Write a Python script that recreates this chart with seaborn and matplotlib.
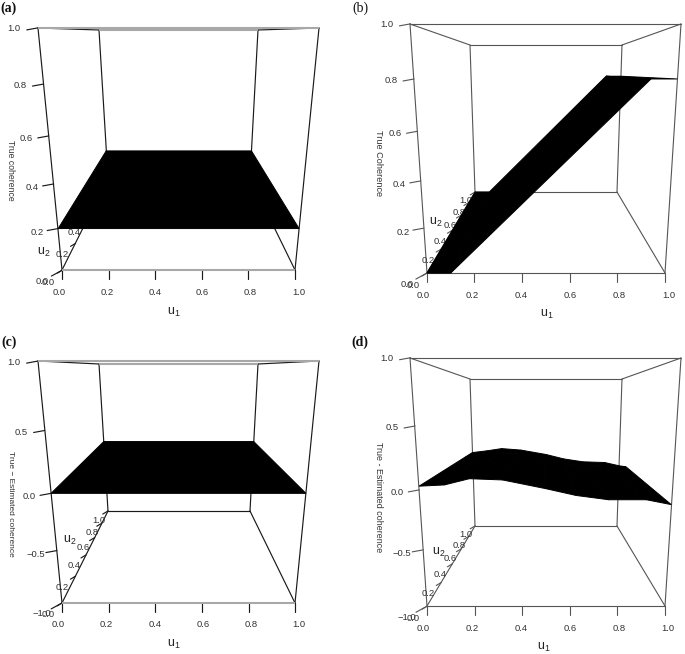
import numpy as np
import pandas as pd
import seaborn as sns
from matplotlib import pyplot as plt

sns.set_theme(style='white')
plt.rcParams['font.family'] = ['Liberation Sans', 'DejaVu Sans']
plt.rcParams['mathtext.default'] = 'regular'

PANEL_W, PANEL_H = 342.5, 327

# axis tick values
u_ticks = [0.0, 0.2, 0.4, 0.6, 0.8, 1.0]
z_ticks_ab = [0.0, 0.2, 0.4, 0.6, 0.8, 1.0]
z_ticks_cd = [-1.0, -0.5, 0.0, 0.5, 1.0]

# surface values, rows are u2, columns are u1
a_u1 = [0.0, 1.0]
a_u2 = [0.0, 1.0]
a_z = [[0.2, 0.2], [0.2, 0.2]]

b_u1 = [0.0, 0.1, 0.9, 1.0]
b_u2 = [0.0, 1.0]
b_z = [[0.0, 0.0, 0.8, 0.8], [0.0, 0.0, 0.8, 0.8]]

c_u1 = [0.0, 1.0]
c_u2 = [0.0, 1.0]
c_z = [[0.0, 0.0], [0.0, 0.0]]

d_u1 = [0.0, 0.1, 0.2, 0.33, 0.5, 0.62, 0.75, 0.9, 1.0]
d_u2 = [0.0, 0.8, 1.0]
d_z = [[0.03, 0.04, 0.09, 0.08, 0.01, -0.045, -0.08, -0.08, -0.12],
       [0.035, 0.056, 0.09, 0.07, 0.01, -0.05, -0.088, -0.095, -0.09],
       [0.036, 0.06, 0.09, 0.07, 0.01, -0.05, -0.09, -0.10, -0.145]]

CORNERS = [(0, 0, 0), (1, 0, 0), (0, 1, 0), (1, 1, 0),
           (0, 0, 1), (1, 0, 1), (0, 1, 1), (1, 1, 1)]
EDGES = [(0, 1), (2, 3), (4, 5), (6, 7), (0, 2), (1, 3),
         (4, 6), (5, 7), (0, 4), (1, 5), (2, 6), (3, 7)]
RIM_EDGES = [(0, 1), (4, 5), (6, 7)]


def fit_camera(screen):
    # 3x4 perspective matrix from the eight box corners
    rows, rhs = [], []
    for (x, y, z), (sx, sy) in zip(CORNERS, screen):
        rows.append([x, y, z, 1, 0, 0, 0, 0, -sx * x, -sx * y, -sx * z])
        rhs.append(sx)
        rows.append([0, 0, 0, 0, x, y, z, 1, -sy * x, -sy * y, -sy * z])
        rhs.append(sy)
    p = np.linalg.lstsq(np.array(rows, float), np.array(rhs, float), rcond=None)[0]
    return np.append(p, 1.0).reshape(3, 4)


def draw_panel(ax, cfg):
    cam = fit_camera(cfg['box'])
    zmin, zmax = cfg['zlim']

    def project(u1, u2, z):
        w = cam @ np.array([u1, u2, (z - zmin) / (zmax - zmin), 1.0])
        return w[0] / w[2], w[1] / w[2]

    # box edges, the pale ones are drawn apart in panels a and c
    screen = cfg['box']
    segs = []
    n = 0
    for i, j in EDGES:
        if cfg['pale_rim'] and (i, j) in RIM_EDGES:
            continue
        segs.append({'edge': n, 'x': screen[i][0], 'y': screen[i][1]})
        segs.append({'edge': n, 'x': screen[j][0], 'y': screen[j][1]})
        n += 1
    # tick marks
    for u in u_ticks:
        x, y = project(u, 0, zmin)
        segs.append({'edge': n, 'x': x, 'y': y})
        segs.append({'edge': n, 'x': x, 'y': y + 9})
        n += 1
    for z in cfg['zticks']:
        x, y = project(0, 0, z)
        dy = 6 if z == zmin else 2
        segs.append({'edge': n, 'x': x, 'y': y})
        segs.append({'edge': n, 'x': x - 11, 'y': y + dy})
        n += 1
    for u in u_ticks:
        x, y = project(0, u, zmin)
        segs.append({'edge': n, 'x': x, 'y': y})
        segs.append({'edge': n, 'x': x - 5, 'y': y + 3})
        n += 1

    if cfg['pale_rim']:
        for i, j in RIM_EDGES:
            ax.plot([screen[i][0], screen[j][0]], [screen[i][1], screen[j][1]],
                    color='#a8a8a8', lw=1.5, solid_capstyle='butt', zorder=3)

    sns.lineplot(data=pd.DataFrame(segs), x='x', y='y', units='edge', estimator=None,
                 sort=False, color=cfg['line'], linewidth=cfg['lw'], legend=False,
                 ax=ax, zorder=2)

    # surface
    u1, u2, zz = cfg['u1'], cfg['u2'], cfg['z']
    for r in range(len(u2) - 1):
        for c in range(len(u1) - 1):
            quad = [project(u1[c], u2[r], zz[r][c]),
                    project(u1[c + 1], u2[r], zz[r][c + 1]),
                    project(u1[c + 1], u2[r + 1], zz[r + 1][c + 1]),
                    project(u1[c], u2[r + 1], zz[r + 1][c])]
            ax.fill(*zip(*quad), fc='black', ec='black', lw=0.7, zorder=4)

    # tick labels
    txt = dict(fontsize=6.8, color='#333333', ha='center', va='center', zorder=3)
    for u in u_ticks:
        x, y = project(u, 0, zmin)
        ax.text(x + (u - 0.5) * 7, y + 22, f'{u:.1f}', **txt)
    for z in cfg['zticks']:
        x, y = project(0, 0, z)
        frac = (z - zmin) / (zmax - zmin)
        if z == zmin:
            ax.text(x - 20, y + 11, f'{z:.1f}'.replace('-', '\u2212'), **txt)
        else:
            ax.text(x - 24 + 4 * (1 - frac), y + 1 + 4 * (1 - frac),
                    f'{z:.1f}'.replace('-', '\u2212'), **txt)
    for u in u_ticks:
        x, y = project(0, u, zmin)
        ax.text(x - 14 + 5 * u, y + 12 - 3 * u, f'{u:.1f}', **txt)

    # axis titles
    ax.text(*cfg['u1_pos'], '$u_1$', fontsize=9, color='#222222', ha='center', va='center')
    ax.text(*cfg['u2_pos'], '$u_2$', fontsize=9, color='#222222', ha='center', va='center',
            zorder=3)
    ax.text(*cfg['z_pos'], cfg['zlabel'], fontsize=cfg['zfs'], color='#333333', rotation=270,
            ha='center', va='center')
    ax.text(*cfg['tag_pos'], cfg['tag'], fontsize=10, fontweight=cfg['tag_weight'],
            color='#111111', family=['Liberation Serif'], ha='center', va='center')

    ax.set_xlim(0, PANEL_W)
    ax.set_ylim(PANEL_H, 0)
    ax.axis('off')


panels = [
    dict(origin=(0, 0), tag='(a)', tag_pos=(9, 8), tag_weight='bold', zlabel='True coherence',
         z_pos=(10, 170), zfs=6.2, zlim=(0.0, 1.0), zticks=z_ticks_ab, u1=a_u1, u2=a_u2, z=a_z,
         box=[(62, 270), (295, 270), (108, 178), (250, 178),
              (38, 28), (319, 28), (99, 30), (258, 30)],
         u1_pos=(174, 312), u2_pos=(44, 252), line='#1a1a1a', lw=0.85, pale_rim=True),
    dict(origin=(342, 0), tag='(b)', tag_pos=(18, 8), tag_weight='normal', zlabel='True Coherence',
         z_pos=(37, 163), zfs=6.6, zlim=(0.0, 1.0), zticks=z_ticks_ab, u1=b_u1, u2=b_u2, z=b_z,
         box=[(85, 273), (323, 273), (133, 192), (275, 192),
              (68, 24), (339, 24), (128, 45), (280, 45)],
         u1_pos=(205, 314), u2_pos=(94, 222), line='#555555', lw=0.8, pale_rim=False),
    dict(origin=(0, 327), tag='(c)', tag_pos=(9, 15), tag_weight='bold',
         zlabel='True \u2212 Estimated coherence', z_pos=(10, 177), zfs=6.0, zlim=(-1.0, 1.0),
         zticks=z_ticks_cd, u1=c_u1, u2=c_u2, z=c_z,
         box=[(62, 276), (295, 276), (108, 184), (250, 184),
              (38, 34), (319, 34), (99, 37), (258, 37)],
         u1_pos=(174, 317), u2_pos=(70, 213), line='#1a1a1a', lw=0.85, pale_rim=True),
    dict(origin=(342, 327), tag='(d)', tag_pos=(18, 15), tag_weight='bold',
         zlabel='True - Estimated coherence', z_pos=(37, 170), zfs=6.4, zlim=(-1.0, 1.0),
         zticks=z_ticks_cd, u1=d_u1, u2=d_u2, z=d_z,
         box=[(85, 279), (323, 279), (133, 199), (275, 199),
              (68, 31), (339, 31), (128, 52), (280, 52)],
         u1_pos=(202, 320), u2_pos=(97, 225), line='#555555', lw=0.8, pale_rim=False),
]

fig = plt.figure(figsize=(6.85, 6.54), dpi=100)
for cfg in panels:
    x0, y0 = cfg['origin']
    ax = fig.add_axes([x0 / 685, 1 - (y0 + PANEL_H) / 654, PANEL_W / 685, PANEL_H / 654])
    draw_panel(ax, cfg)

fig.savefig('out.png', dpi=100)
